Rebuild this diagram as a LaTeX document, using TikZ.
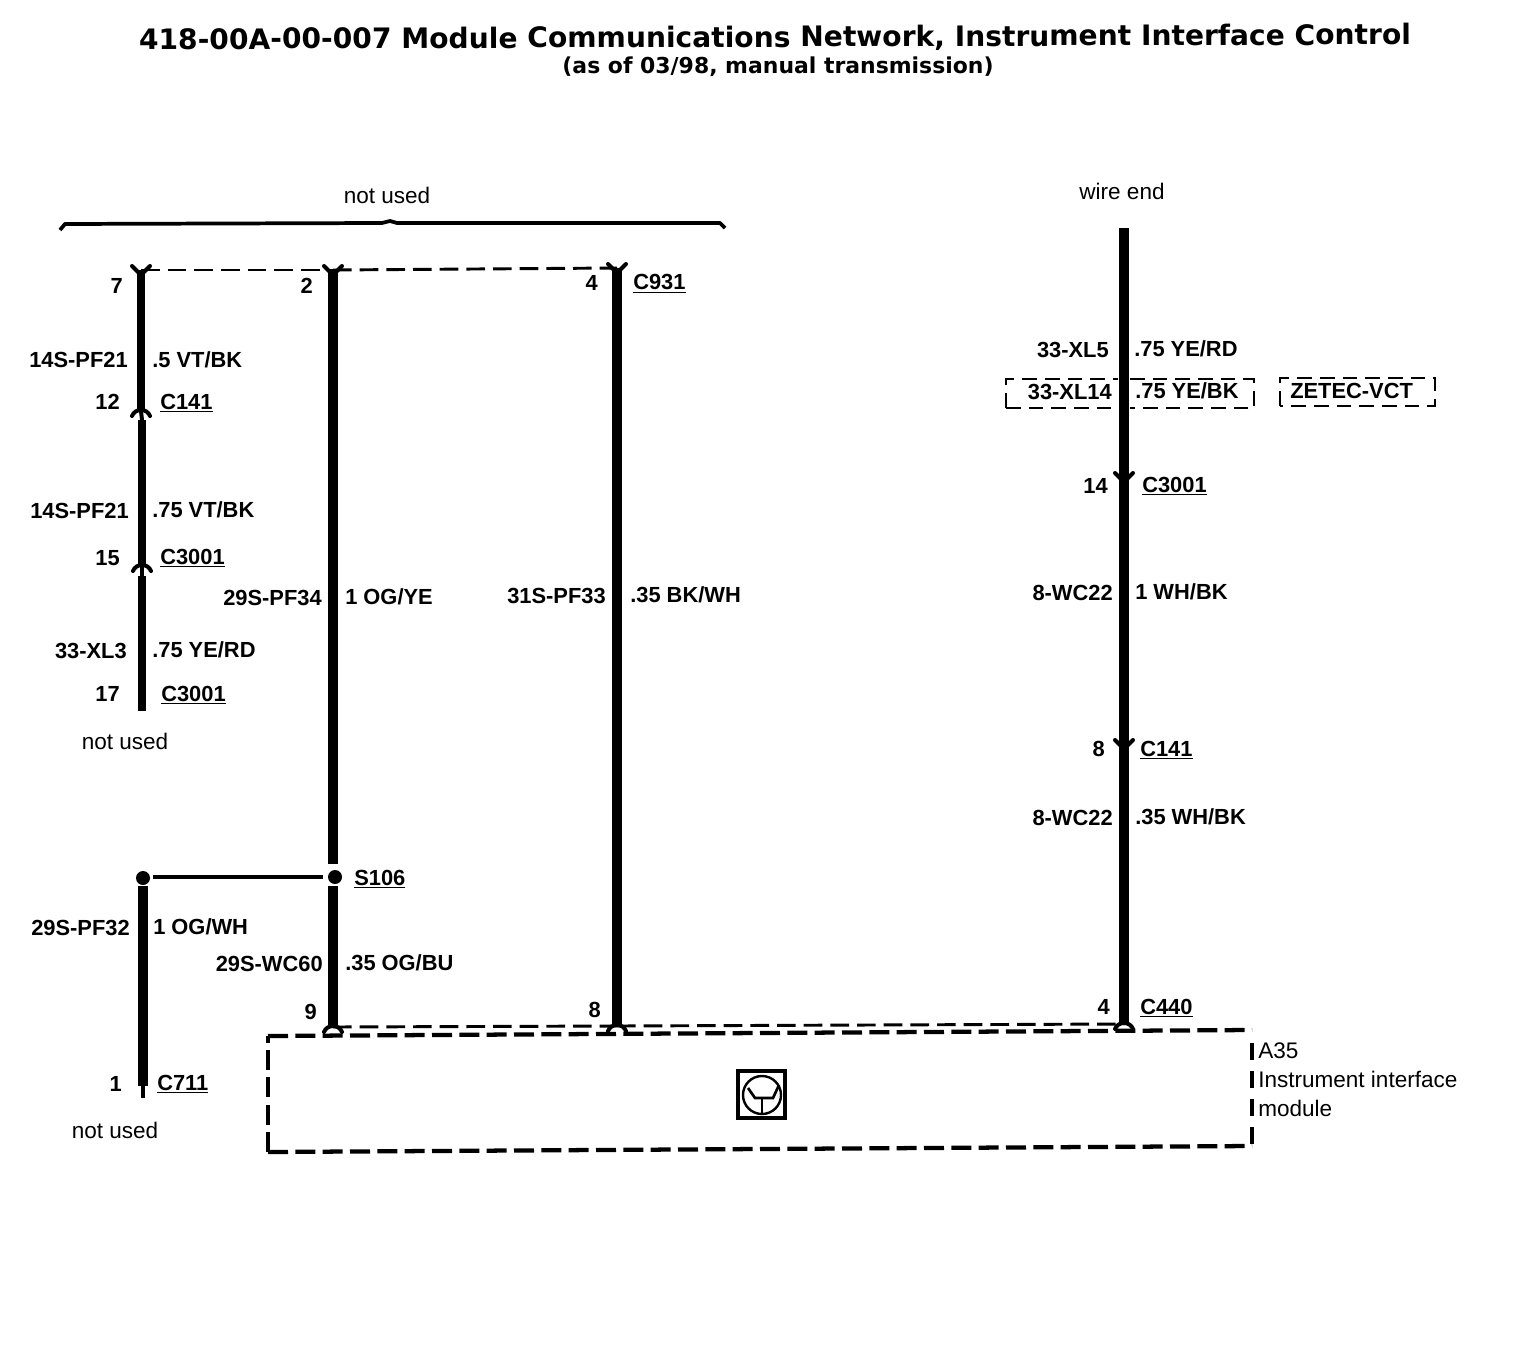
\documentclass[tikz,border=0pt]{standalone}
\usepackage{fontspec}
\setmainfont{Liberation Sans}
\newfontfamily\titlefont{DejaVu Sans}
\tikzset{
  x=0.75pt,y=-0.75pt,
  lbl/.style={font=\fontsize{16.4pt}{18pt}\selectfont\bfseries,inner sep=0pt,text=black},
  lr/.style={lbl,anchor=base east},
  ll/.style={lbl,anchor=base west},
  plain/.style={font=\fontsize{16.9pt}{18pt}\selectfont,inner sep=0pt,anchor=base},
  plainw/.style={plain,anchor=base west},
  titlea/.style={font=\titlefont\fontsize{21.1pt}{23pt}\selectfont\bfseries,inner sep=0pt,anchor=base,rotate=0.22},
  titleb/.style={font=\titlefont\fontsize{16.45pt}{18pt}\selectfont\bfseries,inner sep=0pt,anchor=base},
  wirem/.style={line width=6pt,black},
  wireh/.style={line width=8pt,black},
  wirek/.style={line width=6.8pt,black},
  stub/.style={line width=3pt,black},
  thinw/.style={line width=2.4pt,black},
  dashw/.style={line width=2.2pt,black,dash pattern=on 14pt off 6pt},
  boxd/.style={line width=3.2pt,black,dash pattern=on 15pt off 5.5pt},
  boxs/.style={line width=3.2pt,black,dash pattern=on 13pt off 8pt},
  optd/.style={line width=2.2pt,black,dash pattern=on 11pt off 6pt},
  forkl/.style={line width=3pt,black,line cap=round,line join=round},
  splice/.style={circle,fill=black,inner sep=0pt,minimum size=10.5pt},
  pics/vfork/.style={code={\draw[forkl] (-9,-4) -- (0,5) -- (9,-4);}},
  pics/archf/.style={code={\draw[forkl] (-9,5) .. controls (-6,-3) and (6,-3) .. (9,5);}}
}
\begin{document}
\begin{tikzpicture}
\useasboundingbox (0,0) rectangle (1520,1348);
\fill[white] (0,0) rectangle (1520,1348);
% titles
\node[titlea] (title) at (775,47) {418-00A-00-007 Module Communications Network, Instrument Interface Control};
\node[titleb] (subtitle) at (778,74) {(as of 03/98, manual transmission)};
% coordinates
\coordinate (a0) at (141,270); \coordinate (a1) at (141,411);
\coordinate (a2) at (142,420); \coordinate (a3) at (142,566);
\coordinate (a4) at (142,576); \coordinate (a5) at (142,711);
\coordinate (b0) at (333,270); \coordinate (b1) at (333,864);
\coordinate (b2) at (333,886); \coordinate (b3) at (333,1027);
\coordinate (c0) at (617,268); \coordinate (c1) at (617,1026);
\coordinate (d0) at (1124,228); \coordinate (d1) at (1124,1024);
\coordinate (e1) at (143,886); \coordinate (e2) at (143,1086); \coordinate (e3) at (143,1098);
\coordinate (boxtl) at (268,1036); \coordinate (boxtr) at (1252,1030);
\coordinate (boxbl) at (268,1152); \coordinate (boxbr) at (1252,1146);
% brace
\coordinate (br0) at (60,230); \coordinate (br1) at (65,224); \coordinate (brm) at (390,221);
\coordinate (br2) at (720,223); \coordinate (br3) at (725,228);
\draw[line width=2.8pt,line join=round] (br0) -- (br1) -- (382,223) -- (brm) -- (397,223) -- (br2) -- (br3);
% wires
\draw[wirem] (a0) -- (a1);
\draw[stub] (a1) -- (a2);
\draw[wirem] (a2) -- (a3);
\draw[stub] (a3) -- (a4);
\draw[wirem] (a4) -- (a5);
\draw[wireh] (b0) -- (b1);
\draw[wireh] (b2) -- (b3);
\draw[wireh] (c0) -- (c1);
\draw[wirek] (d0) -- (d1);
\draw[wirek] (e1) -- (e2);
\draw[stub] (e2) -- (e3);
% splices
\node[splice] (sa) at (143,878) {};
\node[splice] (sb) at (335,877) {};
\draw[thinw] (sa) ++(10,-1) -- ++(170,0);
% dashed shared links
\draw[dashw] (a0) -- (b0);
\draw[dashw] (b0) -- (c0);
\draw[dashw] (b3) -- (c1);
\draw[dashw] (c1) -- (d1);
% forks
\pic at (a0) {vfork};
\pic at (b0) {vfork};
\pic at (c0) {vfork};
\pic at (141,411) {archf};
\pic at (142,566) {archf};
\pic at (1124,477) {vfork};
\pic at (1124,744) {vfork};
\pic at (b3) {archf};
\pic at (c1) {archf};
\pic at (d1) {archf};
% module box
\draw[boxd] (boxtl) -- (boxtr);
\draw[boxs] (boxtr) ++(0,13) -- (boxbr);
\draw[boxd] (boxbl) -- (boxbr);
\draw[boxd] (boxbl) -- (boxtl);
% icon
\draw[line width=2.4pt] (738,1071) rectangle (785,1118);
\draw[line width=1.8pt] (762,1095) circle [radius=19];
\draw[line width=2pt] (748,1088) -- (755,1098) -- (773,1098) -- (779,1085);
\draw[line width=2pt] (762,1098) -- (762,1113);
% optional boxes
\draw[optd] (1006,408) -- (1006,379) -- (1118,379);
\draw[optd] (1006,408) -- (1120,408);
\draw[optd] (1130,379) -- (1254,379) -- (1254,408) -- (1130,408);
\draw[optd] (1280,406) -- (1280,378) -- (1435,378) -- (1435,406) -- cycle;
% labels left column
\node[lr] (t7) at (123,293) {7};
\node[lr] (t14a) at (128,367) {14S-PF21};
\node[ll] (t5vt) at (152,367) {.5 VT/BK};
\node[lr] (t12) at (120,409) {12};
\node[ll] (tc141a) at (160,409) {\underline{C141}};
\node[lr] (t14b) at (129,518) {14S-PF21};
\node[ll] (t75vt) at (152,517) {.75 VT/BK};
\node[lr] (t15) at (120,565) {15};
\node[ll] (tc3001a) at (160,564) {\underline{C3001}};
\node[lr] (t33a) at (127,658) {33-XL3};
\node[ll] (t75ye) at (152,657) {.75 YE/RD};
\node[lr] (t17) at (120,701) {17};
\node[ll] (tc3001b) at (161,701) {\underline{C3001}};
\node[plain] (nu1) at (125,749) {not used};
\node[lr] (t29a) at (130,935) {29S-PF32};
\node[ll] (t1og) at (153,934) {1 OG/WH};
\node[lr] (t1) at (122,1091) {1};
\node[ll] (tc711) at (157,1090) {\underline{C711}};
\node[plain] (nu2) at (115,1138) {not used};
% second column
\node[plain] (nu3) at (387,204) {not used};
\node[lr] (t2) at (313,293) {2};
\node[lr] (t29b) at (322,605) {29S-PF34};
\node[ll] (t1ogye) at (345,604) {1 OG/YE};
\node[ll] (ts106) at (354,885) {\underline{S106}};
\node[lr] (t29c) at (323,971) {29S-WC60};
\node[ll] (t35og) at (345,970) {.35 OG/BU};
\node[lr] (t9) at (317,1019) {9};
% third column
\node[lr] (t4a) at (598,291) {4};
\node[ll] (tc931) at (633,290) {\underline{C931}};
\node[lr] (t31) at (606,603) {31S-PF33};
\node[ll] (t35bk) at (630,602) {.35 BK/WH};
\node[lr] (t8a) at (601,1017) {8};
% right column
\node[plain] (we) at (1122,200) {wire end};
\node[lr] (t33b) at (1109,357) {33-XL5};
\node[ll] (t75yr) at (1134,356) {.75 YE/RD};
\node[lr] (t33c) at (1112,399) {33-XL14};
\node[ll] (t75yb) at (1135,398) {.75 YE/BK};
\node[ll] (tzetec) at (1290,398) {ZETEC-VCT};
\node[lr] (t14c) at (1108,493) {14};
\node[ll] (tc3001c) at (1142,492) {\underline{C3001}};
\node[lr] (t8b) at (1113,600) {8-WC22};
\node[ll] (t1wh) at (1135,599) {1 WH/BK};
\node[lr] (t8c) at (1105,756) {8};
\node[ll] (tc141b) at (1140,756) {\underline{C141}};
\node[lr] (t8d) at (1113,825) {8-WC22};
\node[ll] (t35wh) at (1135,824) {.35 WH/BK};
\node[lr] (t4b) at (1110,1014) {4};
\node[ll] (tc440) at (1140,1014) {\underline{C440}};
\node[plainw] (a35) at (1258,1058) {A35};
\node[plainw] (iim) at (1258,1087) {Instrument interface};
\node[plainw] (mod) at (1258,1116) {module};
\end{tikzpicture}
\end{document}
